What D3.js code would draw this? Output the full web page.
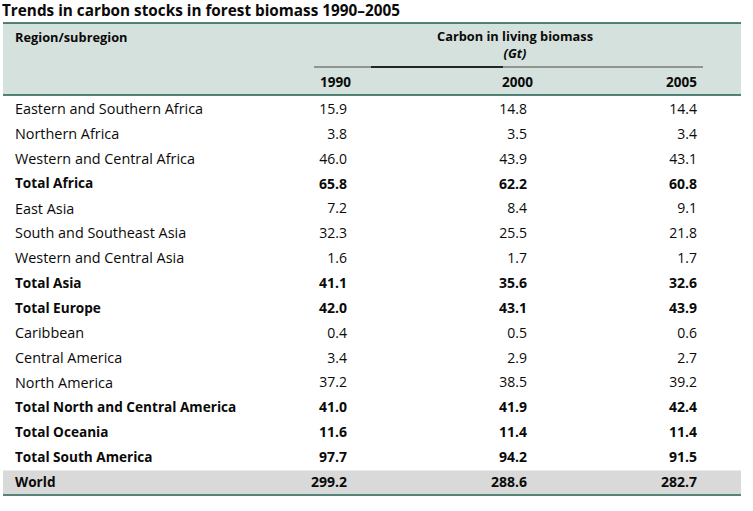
<!DOCTYPE html>
<html><head><meta charset="utf-8">
<script src="https://cdn.jsdelivr.net/npm/d3@7"></script>
<style>
html,body{margin:0;padding:0;background:#fff;}
svg text{font-family:"Open Sans","Noto Sans",sans-serif;fill:#0a0a0a;}
</style></head>
<body><svg id="c" width="753" height="511"></svg>
<script>
const title = "Trends in carbon stocks in forest biomass 1990\u20132005";
const years = ["1990", "2000", "2005"];
const regions = ["Eastern and Southern Africa","Northern Africa","Western and Central Africa","Total Africa","East Asia","South and Southeast Asia","Western and Central Asia","Total Asia","Total Europe","Caribbean","Central America","North America","Total North and Central America","Total Oceania","Total South America","World"];
const isTotal = [false,false,false,true,false,false,false,true,true,false,false,false,true,true,true,true];
const v1990 = [15.9,3.8,46.0,65.8,7.2,32.3,1.6,41.1,42.0,0.4,3.4,37.2,41.0,11.6,97.7,299.2];
const v2000 = [14.8,3.5,43.9,62.2,8.4,25.5,1.7,35.6,43.1,0.5,2.9,38.5,41.9,11.4,94.2,288.6];
const v2005 = [14.4,3.4,43.1,60.8,9.1,21.8,1.7,32.6,43.9,0.6,2.7,39.2,42.4,11.4,91.5,282.7];

const svg = d3.select("#c");
const L = 3, R = 741;
const colRight = d3.scaleOrdinal().domain(years).range([347, 527, 697]);
const headRight = d3.scaleOrdinal().domain(years).range([351, 533, 697]);
const y = d3.scalePoint().domain(d3.range(regions.length)).range([109, 482]);

svg.append("text").attr("x", 2).attr("y", 16).attr("font-size", 15.3).attr("font-weight", "bold").text(title);

// header band
svg.append("rect").attr("x", L).attr("y", 23).attr("width", R - L).attr("height", 72).attr("fill", "#d5e1dd");
svg.append("line").attr("x1", L).attr("x2", R).attr("y1", 23).attr("y2", 23).attr("stroke", "#1f5b4d").attr("stroke-width", 1.6);
svg.append("line").attr("x1", L).attr("x2", R).attr("y1", 95).attr("y2", 95).attr("stroke", "#1f5b4d").attr("stroke-width", 1.6);

svg.append("text").attr("x", 15).attr("y", 42).attr("font-size", 12.8).attr("font-weight", "bold").text("Region/subregion");
svg.append("text").attr("x", 515).attr("y", 41).attr("font-size", 12.8).attr("font-weight", "bold").attr("text-anchor", "middle").text("Carbon in living biomass");
svg.append("text").attr("x", 515).attr("y", 57.5).attr("font-size", 12.8).attr("font-weight", "bold").attr("font-style", "italic").attr("text-anchor", "middle").text("(Gt)");

// spanner line
svg.append("line").attr("x1", 314).attr("x2", 703).attr("y1", 67).attr("y2", 67).attr("stroke", "#7a7a7a").attr("stroke-width", 1.5);
svg.append("line").attr("x1", 371).attr("x2", 503).attr("y1", 67).attr("y2", 67).attr("stroke", "#000").attr("stroke-width", 1.5);

svg.selectAll("text.yr").data(years).join("text").attr("class", "yr")
  .attr("x", d => headRight(d)).attr("y", 87).attr("font-size", 13.5).attr("font-weight", "bold")
  .attr("text-anchor", "end").text(d => d);

// world band
const wi = regions.length - 1;
svg.append("rect").attr("x", L).attr("y", y(wi) - 11.5).attr("width", R - L).attr("height", 23.5).attr("fill", "#d9d9d9");
svg.append("line").attr("x1", L).attr("x2", R).attr("y1", y(wi) + 13).attr("y2", y(wi) + 13).attr("stroke", "#1f5b4d").attr("stroke-width", 1.6);

const rows = svg.selectAll("g.row").data(regions).join("g").attr("class", "row")
  .attr("transform", (d, i) => `translate(0,${y(i)})`);
rows.append("text").attr("x", 15).attr("dy", "0.35em")
  .attr("font-size", (d, i) => isTotal[i] ? 13.6 : 14.4)
  .attr("font-weight", (d, i) => isTotal[i] ? "bold" : "normal").text(d => d);
const series = [v1990, v2000, v2005];
years.forEach((yr, k) => {
  rows.append("text").attr("x", colRight(yr)).attr("dy", "0.35em").attr("font-size", 14)
    .attr("text-anchor", "end").attr("font-weight", (d, i) => isTotal[i] ? "bold" : "normal")
    .text((d, i) => series[k][i].toFixed(1));
});
</script></body></html>
